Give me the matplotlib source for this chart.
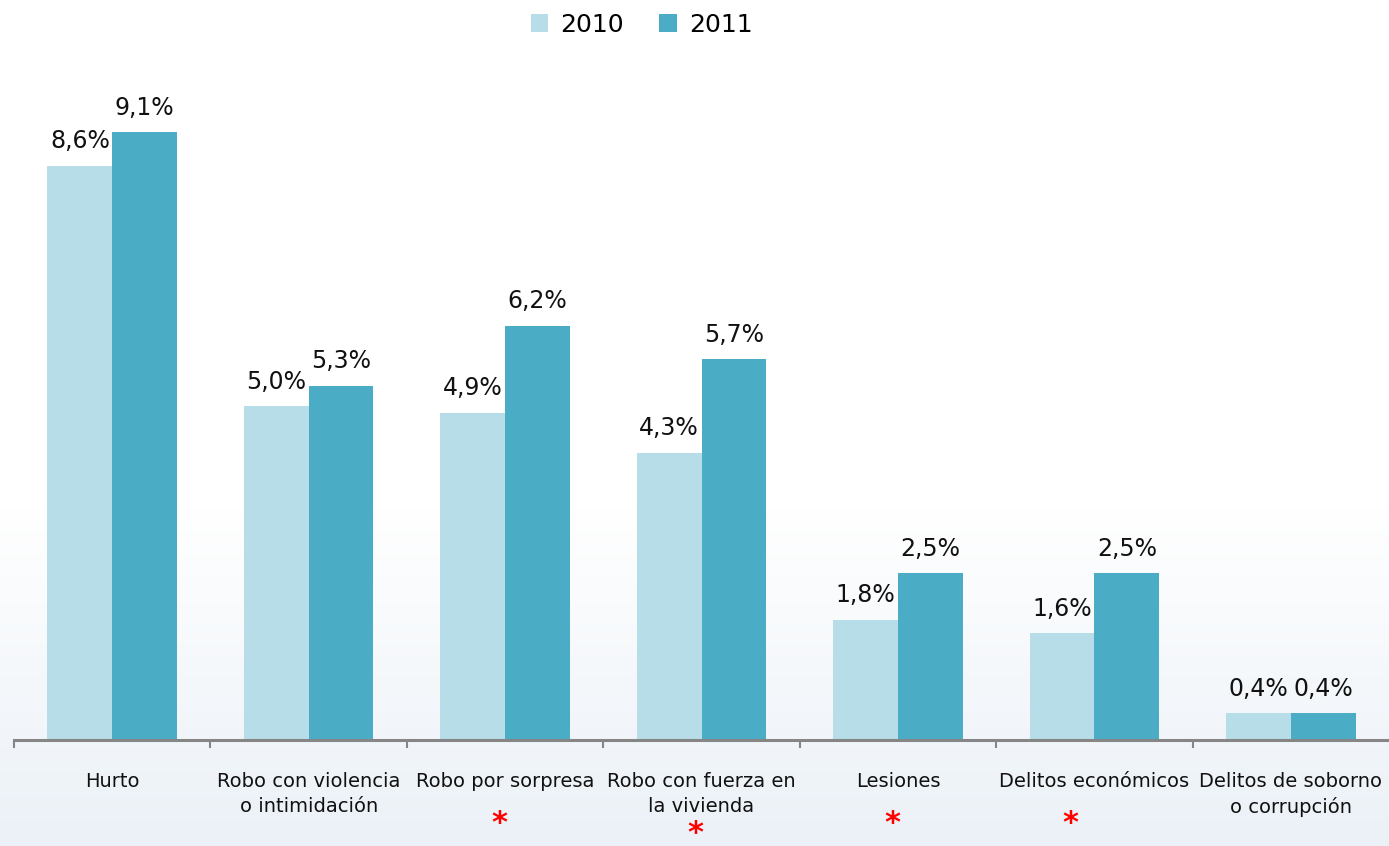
import matplotlib
matplotlib.use("Agg")
from matplotlib import pyplot as plt
from matplotlib.colors import LinearSegmentedColormap
import numpy as np

categories = ["Hurto", "Robo con violencia\no intimidación", "Robo por sorpresa",
              "Robo con fuerza en\nla vivienda", "Lesiones", "Delitos económicos",
              "Delitos de soborno\no corrupción"]
vals_2010 = [8.6, 5.0, 4.9, 4.3, 1.8, 1.6, 0.4]
vals_2011 = [9.1, 5.3, 6.2, 5.7, 2.5, 2.5, 0.4]
labels_2010 = ["8,6%", "5,0%", "4,9%", "4,3%", "1,8%", "1,6%", "0,4%"]
labels_2011 = ["9,1%", "5,3%", "6,2%", "5,7%", "2,5%", "2,5%", "0,4%"]
# categories marked with a red asterisk below the label
starred = [2, 3, 4, 5]

c2010 = "#b7dde8"
c2011 = "#4bacc6"

fig = plt.figure(figsize=(13.89, 8.46), dpi=100)

# faint blue background gradient
bg = fig.add_axes([0, 0, 1, 1], zorder=-10)
grad = np.linspace(0, 1, 256).reshape(-1, 1)
cmap = LinearSegmentedColormap.from_list("bg", ["#ebf1f7", "#ffffff"])
bg.imshow(grad, aspect="auto", cmap=cmap, extent=[0, 1, 0, 1], origin="lower",
          vmin=0, vmax=0.4)
bg.axis("off")

ax = fig.add_axes([0.0101, 0.1253, 0.9899, 0.8156])
ax.patch.set_alpha(0)

x = np.arange(len(categories))
w = 0.33
b1 = ax.bar(x - w / 2, vals_2010, w, color=c2010, label="2010", zorder=2)
b2 = ax.bar(x + w / 2, vals_2011, w, color=c2011, label="2011", zorder=2)

for bars, labs in ((b1, labels_2010), (b2, labels_2011)):
    for r, t in zip(bars, labs):
        ax.annotate(t, (r.get_x() + r.get_width() / 2, r.get_height()),
                    xytext=(0, 9), textcoords="offset points",
                    ha="center", va="bottom", fontsize=17, color="#111111")

ax.set_xlim(-0.5, len(categories) - 0.5)
ax.set_ylim(0, 10.33)
for s in ("top", "right", "left"):
    ax.spines[s].set_visible(False)
ax.spines["bottom"].set_color("#868686")
ax.spines["bottom"].set_linewidth(2.2)
ax.set_yticks([])

ax.set_xticks(x)
ax.set_xticklabels(categories, fontsize=14, color="#111111", linespacing=1.4)
ax.tick_params(axis="x", which="major", length=0, pad=23)
ax.set_xticks(np.arange(len(categories)) - 0.5, minor=True)
ax.tick_params(axis="x", which="minor", length=6, width=1.5, color="#868686",
               direction="out")

star_dx = {2: -0.03, 3: -0.03, 4: -0.03, 5: -0.12}
star_dy = {2: -84, 3: -94, 4: -84, 5: -84}
for i in starred:
    ax.annotate("*", (i + star_dx[i], 0), xytext=(0, star_dy[i] * 0.72),
                textcoords="offset points", ha="center", va="center",
                fontsize=22, fontweight="bold", color="#ff0000",
                annotation_clip=False)

fig.legend(handles=[b1, b2], labels=["2010", "2011"], loc="center",
           bbox_to_anchor=(0.462, 0.971), ncol=2, frameon=False, fontsize=18,
           handlelength=0.7, handleheight=0.7, columnspacing=1.4,
           handletextpad=0.5)

fig.savefig("out.png", dpi=100)
